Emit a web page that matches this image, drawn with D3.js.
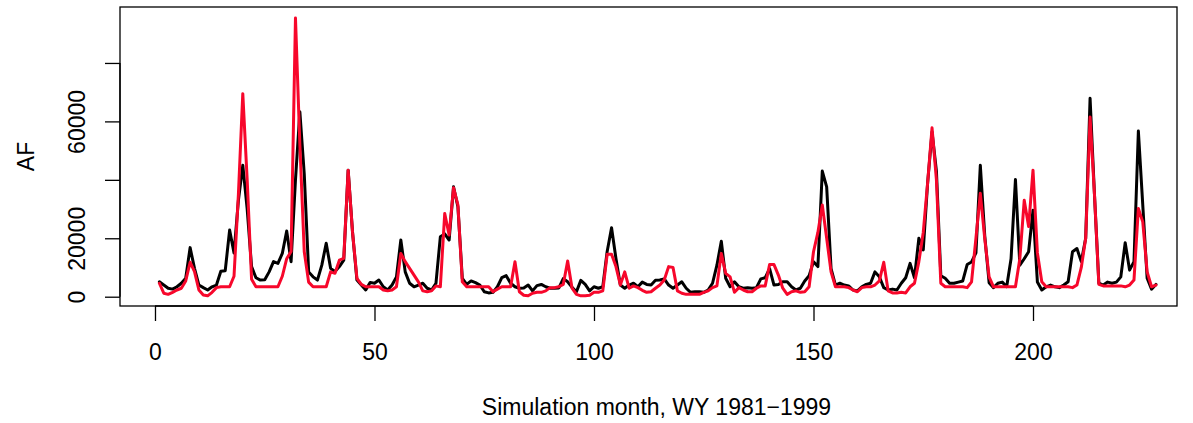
<!DOCTYPE html>
<html>
<head>
<meta charset="utf-8">
<script src="https://cdn.jsdelivr.net/npm/d3@7"></script>
<style>
  body { margin: 0; background: #fff; }
  svg { display: block; font-family: "Liberation Sans", Arial, Helvetica, sans-serif; }
</style>
</head>
<body>
<svg id="chart"></svg>
<script>
// monthly volumes (AF), WY 1981-1999, black = observed, red = simulated
const observed = [
  5100, 4000, 2900, 2600, 3400, 4600, 6300, 16800, 9700, 4000,
  3100, 2300, 3400, 4000, 8700, 8900, 22800, 15000, 33000, 45000,
  30000, 10300, 6500, 5700, 5800, 8500, 12000, 11400, 14800, 22500,
  12000, 40000, 63300, 42000, 8500, 6800, 5700, 10800, 18300, 9700,
  8600, 10300, 12500, 43300, 22000, 5700, 4000, 2300, 4900, 4600,
  5700, 3400, 2300, 4000, 6800, 19400, 8500, 4600, 3400, 4000,
  4600, 2900, 2300, 4600, 20500, 21500, 19400, 37600, 30800, 6300,
  4200, 5400, 4800, 4000, 1700, 1300, 1500, 3400, 6500, 7200,
  4600, 3400, 2900, 3000, 4000, 2000, 3800, 4200, 3400, 2900,
  2900, 3000, 6200, 5100, 3200, 1700, 5600, 4200, 2000, 3400,
  2900, 3400, 15500, 23600, 13100, 4000, 2900, 4000, 4600, 3400,
  5000, 4200, 4000, 5600, 5700, 6100, 4000, 2900, 4000, 5100,
  2900, 1500, 1700, 1700, 1500, 2300, 4600, 10800, 19000, 6300,
  3400, 5100, 3400, 2900, 3100, 2900, 3100, 6100, 6500, 9600,
  4000, 4200, 5100, 5100, 3400, 2300, 2900, 5400, 7200, 12000,
  10300, 43000, 37600, 9600, 4000, 4600, 4000, 3700, 2300, 2000,
  3400, 4200, 4600, 8500, 6800, 3100, 2300, 2600, 2300, 4600,
  6500, 11400, 6500, 20000, 16000, 39000, 56400, 43000, 7200, 6300,
  4600, 4600, 5000, 5400, 11000, 11900, 15000, 45000, 21000, 4800,
  3100, 4600, 5000, 3400, 13000, 40100, 10800, 13000, 15400, 29600,
  5000, 2300, 3400, 4000, 3400, 3100, 4000, 5100, 15400, 16500,
  12000, 20000, 67900, 35000, 4600, 4000, 5000, 4600, 5000, 6800,
  18500, 9100, 12000, 56700, 31400, 6300, 2600, 4200
];
const simulated = [
  4600, 1200, 800, 1500, 2300, 2900, 5400, 11800, 8600, 2300,
  600, 300, 1500, 3100, 3400, 3400, 3400, 7000, 35000, 69500,
  40000, 6000, 3400, 3400, 3400, 3400, 3400, 3400, 7000, 13000,
  15500, 95400, 52000, 15400, 5000, 3400, 3400, 3400, 3400, 8500,
  8000, 12500, 13100, 43300, 22000, 6300, 4200, 3400, 3400, 3400,
  3400, 2300, 2000, 2300, 3400, 14800, 12000, 9700, 7400, 5100,
  2000, 1700, 2000, 3700, 3400, 28500, 21100, 37300, 31400, 5100,
  3400, 3400, 3400, 3400, 3400, 3400, 1700, 2600, 3400, 3400,
  3400, 12000, 1700, 500, 300, 1200, 1500, 1500, 2000, 3100,
  3100, 3400, 4200, 12200, 2900, 800, 300, 300, 500, 1500,
  1500, 2000, 14500, 14500, 10300, 4000, 8500, 2900, 3700, 3100,
  2200, 1500, 1700, 2900, 4000, 5700, 10300, 10000, 2000, 1200,
  800, 800, 800, 800, 1500, 2000, 3100, 3700, 14800, 8000,
  6800, 1500, 3100, 2300, 1700, 1700, 2900, 3700, 3700, 11000,
  11000, 7400, 2900, 800, 1700, 2000, 1500, 1700, 3400, 15400,
  22000, 31400, 20000, 8500, 3400, 3400, 3400, 3100, 2300, 1700,
  3100, 3400, 3400, 4000, 5400, 11800, 2000, 1300, 1300, 1500,
  1300, 3400, 4600, 12000, 22000, 39000, 57800, 40000, 4600, 3400,
  3400, 3400, 3400, 3400, 3100, 5100, 20000, 35400, 20000, 6800,
  3400, 3400, 3400, 3400, 3400, 3400, 13000, 33000, 24000, 43300,
  15000, 5100, 3400, 3400, 3400, 3400, 3400, 3400, 3100, 4000,
  10000, 20000, 61500, 35000, 4200, 3700, 3700, 3700, 3700, 3700,
  3400, 4000, 5700, 30200, 25600, 8500, 3400, 4000
];
const xTicks = [0, 50, 100, 150, 200];
const yTicks = [0, 20000, 40000, 60000, 80000];
const yTickLabels = ["0", "20000", "", "60000", ""];
const xTitle = "Simulation month, WY 1981\u22121999";
const yTitle = "AF";

const W = 1193, H = 423;
const box = {left: 120, right: 1177, top: 7, bottom: 306};
const fontSize = 23;

const svg = d3.select("#chart").attr("width", W).attr("height", H);
svg.append("rect").attr("width", W).attr("height", H).attr("fill", "#fff");

const x = d3.scaleLinear().domain([-7.97, 232.8]).range([box.left, box.right]);
const y = d3.scaleLinear().domain([-3180, 99150]).range([box.bottom, box.top]);

const line = d3.line()
  .x((d, i) => x(i + 1))
  .y(d => y(d));

svg.append("path")
  .datum(observed)
  .attr("d", line)
  .attr("fill", "none")
  .attr("stroke", "#000")
  .attr("stroke-width", 3)
  .attr("stroke-linejoin", "round")
  .attr("stroke-linecap", "round");

svg.append("path")
  .datum(simulated)
  .attr("d", line)
  .attr("fill", "none")
  .attr("stroke", "#f7072b")
  .attr("stroke-width", 3)
  .attr("stroke-linejoin", "round")
  .attr("stroke-linecap", "round");

// x axis
const xAxis = d3.axisBottom(x).tickValues(xTicks).tickSize(15).tickPadding(23).tickSizeOuter(0);
const gx = svg.append("g")
  .attr("transform", `translate(0,${box.bottom})`)
  .call(xAxis);
gx.select(".domain").attr("d", `M${x(xTicks[0])},0H${x(xTicks[xTicks.length - 1])}`);

// y axis
const yAxis = d3.axisLeft(y).tickValues(yTicks).tickSize(15).tickSizeOuter(0)
  .tickFormat((d, i) => yTickLabels[i]);
const gy = svg.append("g")
  .attr("transform", `translate(${box.left},0)`)
  .call(yAxis);
gy.select(".domain").attr("d", `M0,${y(yTicks[0])}V${y(yTicks[yTicks.length - 1])}`);
gy.selectAll(".tick text")
  .attr("transform", "rotate(-90)")
  .attr("x", 0)
  .attr("y", -35.3)
  .attr("dy", 0)
  .attr("text-anchor", "middle");

svg.selectAll(".tick line, .domain").attr("stroke", "#000").attr("stroke-width", 1.3);
svg.selectAll(".tick text").attr("font-size", fontSize).attr("fill", "#000")
  .attr("font-family", "'Liberation Sans', Arial, sans-serif");

// plot frame
svg.append("rect")
  .attr("x", box.left).attr("y", box.top)
  .attr("width", box.right - box.left).attr("height", box.bottom - box.top)
  .attr("fill", "none").attr("stroke", "#000").attr("stroke-width", 1.3);

// axis titles
svg.append("text")
  .attr("x", (box.left + box.right) / 2 + 8).attr("y", 415)
  .attr("text-anchor", "middle").attr("font-size", fontSize)
  .text(xTitle);

svg.append("text")
  .attr("transform", `translate(33.5,${(box.top + box.bottom) / 2}) rotate(-90)`)
  .attr("text-anchor", "middle").attr("font-size", fontSize)
  .text(yTitle);
</script>
</body>
</html>
